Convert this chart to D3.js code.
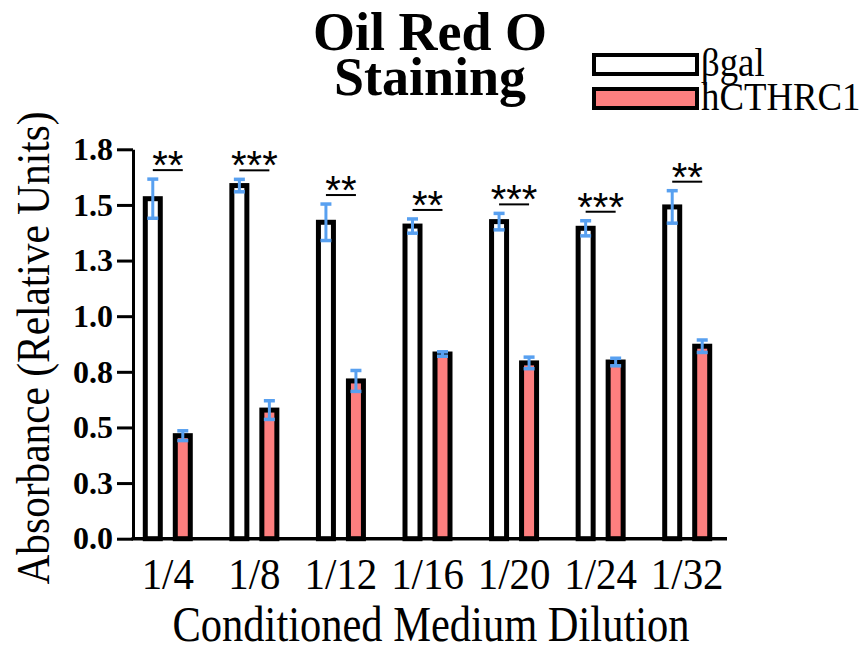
<!DOCTYPE html>
<html>
<head>
<meta charset="utf-8">
<script src="https://cdn.jsdelivr.net/npm/d3@7"></script>
<style>
	body { margin: 0; background: #fff; }
	svg { display: block; }
</style>
</head>
<body>
<svg id="chart" width="867" height="647"></svg>
<script>
'use strict';

// values
const categories = ["1/4", "1/8", "1/12", "1/16", "1/20", "1/24", "1/32"];
const series = ["βgal", "hCTHRC1"];
const betaGalMean = [1.528, 1.587, 1.422, 1.405, 1.425, 1.395, 1.491];
const betaGalErr = [0.088, 0.028, 0.082, 0.032, 0.037, 0.034, 0.073];
const cthrcMean = [0.463, 0.578, 0.709, 0.830, 0.790, 0.794, 0.865];
const cthrcErr = [0.022, 0.042, 0.047, 0.010, 0.026, 0.017, 0.028];
const significance = ["**", "***", "**", "**", "***", "***", "**"];
const yTicks = [0, 0.25, 0.5, 0.75, 1.0, 1.25, 1.5, 1.75];
const yTickLabels = ["0.0", "0.3", "0.5", "0.8", "1.0", "1.3", "1.5", "1.8"];

const serif = "'Liberation Serif', 'Times New Roman', serif";
const sans = "'Liberation Sans', Arial, sans-serif";
const fills = { "βgal": "#ffffff", "hCTHRC1": "#fd7f7f" };
const errColor = "#58a0f0";

let svg = d3.select("#chart");

let y = d3.scaleLinear()
	.domain([0, 1.75])
	.range([538.7, 149.3]);

let x0 = d3.scaleBand()
	.domain(categories)
	.range([124.5, 730.5])
	.padding(0);

// offset of each series from the group centre
let x1 = d3.scalePoint()
	.domain(series)
	.range([-15, 15]);

let rows = categories.map(function(c, i){
	return {
		cat: c,
		sig: significance[i],
		bars: [
			{ cat: c, key: "βgal", v: betaGalMean[i], e: betaGalErr[i] },
			{ cat: c, key: "hCTHRC1", v: cthrcMean[i], e: cthrcErr[i] }
		]
	};
});

let center = function(c){ return x0(c) + x0.bandwidth() / 2; };

// bars
let groups = svg.selectAll(".grp")
	.data(rows)
	.enter()
	.append("g")
	.attr("class", "grp");

let barW = 15;
groups.selectAll("rect")
	.data(function(d){ return d.bars; })
	.enter()
	.append("rect")
	.attr("x", function(d){ return center(d.cat) + x1(d.key) - barW / 2; })
	.attr("y", function(d){ return y(d.v); })
	.attr("width", barW)
	.attr("height", function(d){ return y(0) - y(d.v); })
	.attr("fill", function(d){ return fills[d.key]; })
	.attr("stroke", "#000")
	.attr("stroke-width", 5);

// error bars
let eb = groups.selectAll(".err")
	.data(function(d){ return d.bars; })
	.enter()
	.append("g")
	.attr("class", "err")
	.attr("stroke", errColor)
	.attr("stroke-width", 3);

eb.append("line")
	.attr("x1", function(d){ return center(d.cat) + x1(d.key); })
	.attr("x2", function(d){ return center(d.cat) + x1(d.key); })
	.attr("y1", function(d){ return y(d.v + d.e); })
	.attr("y2", function(d){ return y(d.v - d.e); });

[1, -1].forEach(function(s){
	eb.append("line")
		.attr("x1", function(d){ return center(d.cat) + x1(d.key) - 5.5; })
		.attr("x2", function(d){ return center(d.cat) + x1(d.key) + 5.5; })
		.attr("y1", function(d){ return y(d.v + s * d.e); })
		.attr("y2", function(d){ return y(d.v + s * d.e); })
		.attr("stroke-width", 3.5);
});

// significance marks
let lineY = function(d){ return y(d.bars[0].v + d.bars[0].e) - 9; };

groups.append("line")
	.attr("x1", function(d){ return center(d.cat) + x1("βgal"); })
	.attr("x2", function(d){ return center(d.cat) + x1("hCTHRC1"); })
	.attr("y1", lineY)
	.attr("y2", lineY)
	.attr("stroke", "#000")
	.attr("stroke-width", 2);

groups.append("text")
	.attr("x", function(d){ return center(d.cat); })
	.attr("y", function(d){ return lineY(d) + 9; })
	.attr("text-anchor", "middle")
	.style("font-family", sans)
	.style("font-size", "40px")
	.text(function(d){ return d.sig; });

// y axis
let yAxis = svg.append("g")
	.attr("transform", "translate(133,0)")
	.call(d3.axisLeft(y)
		.tickValues(yTicks)
		.tickFormat(function(d, i){ return yTickLabels[i]; })
		.tickSize(16)
		.tickSizeOuter(0)
		.tickPadding(4));
yAxis.selectAll("line, path").attr("stroke", "#000").attr("stroke-width", 3);
yAxis.selectAll("text")
	.style("font-family", serif)
	.style("font-weight", "bold")
	.style("font-size", "32px")
	.attr("fill", "#000");

// x axis
let xAxis = svg.append("g")
	.attr("transform", "translate(0," + y(0) + ")")
	.call(d3.axisBottom(x0).tickSize(0).tickPadding(19));
xAxis.select(".domain").remove();
xAxis.append("line")
	.attr("x1", 131.5)
	.attr("x2", 727)
	.attr("stroke", "#000")
	.attr("stroke-width", 3.5);
xAxis.selectAll("text")
	.attr("transform", "scale(0.93,1)")
	.style("font-family", serif)
	.style("font-size", "44px")
	.attr("fill", "#000");

// axis titles (the source font is a narrow Times, so squeeze a little)
svg.append("text")
	.attr("transform", "translate(431,641) scale(0.85,1)")
	.attr("text-anchor", "middle")
	.style("font-family", serif)
	.style("font-size", "50px")
	.text("Conditioned Medium Dilution");

svg.append("text")
	.attr("transform", "translate(49,348) rotate(-90) scale(0.88,1)")
	.attr("text-anchor", "middle")
	.style("font-family", serif)
	.style("font-size", "47px")
	.text("Absorbance (Relative Units)");

// title
let title = svg.append("text")
	.attr("text-anchor", "middle")
	.style("font-family", serif)
	.style("font-weight", "bold")
	.style("font-size", "54px");
title.append("tspan").attr("x", 430).attr("y", 50).text("Oil Red O");
title.append("tspan").attr("x", 430).attr("y", 95).text("Staining");

// legend
let legend = svg.selectAll(".legend")
	.data(series)
	.enter()
	.append("g")
	.attr("class", "legend")
	.attr("transform", function(d, i){ return "translate(594," + (55 + i * 34) + ")"; });

legend.append("rect")
	.attr("width", 103)
	.attr("height", 19)
	.attr("fill", function(d){ return fills[d]; })
	.attr("stroke", "#000")
	.attr("stroke-width", 4);

legend.append("text")
	.attr("transform", "translate(107,21) scale(0.92,1)")
	.style("font-family", serif)
	.style("font-size", "40px")
	.text(function(d){ return d; });
</script>
</body>
</html>
